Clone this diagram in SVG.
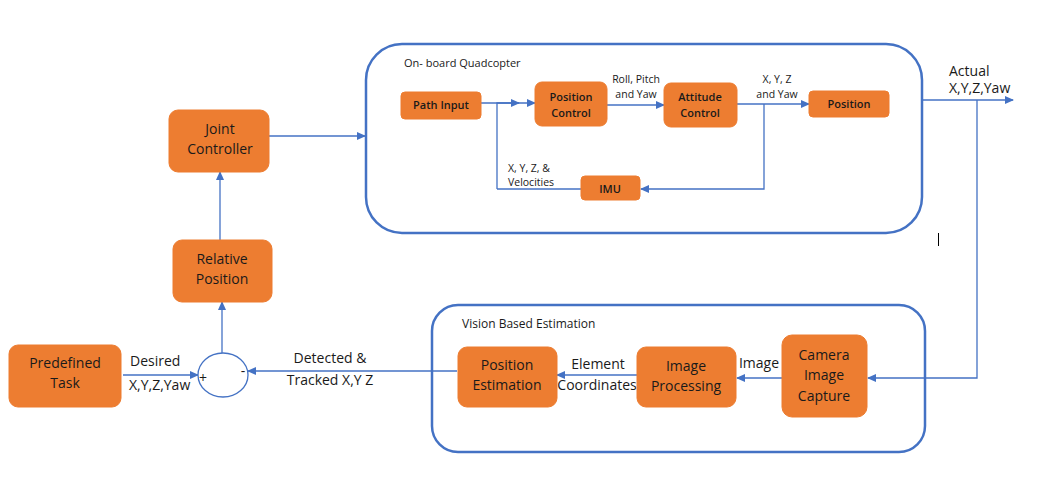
<svg xmlns="http://www.w3.org/2000/svg" width="1038" height="486" viewBox="0 0 1038 486">
<style>
.box{fill:#ED7D31;stroke:#ED7D31;stroke-width:1}
.cont{fill:none;stroke:#4472C4;stroke-width:2.5}
.ln{fill:none;stroke:#4472C4;stroke-width:1.3}
.t{font-family:"Open Sans","Liberation Sans",sans-serif;fill:#1a1a1a;text-anchor:middle}
.n13{font-size:14px}
.n11{font-size:11px;font-weight:600}
.l{font-family:"Open Sans","Liberation Sans",sans-serif;fill:#1a1a1a;font-size:14px}
.s{font-family:"Open Sans","Liberation Sans",sans-serif;fill:#1a1a1a;font-size:10.5px}
</style>
<defs>
<marker id="ah" markerWidth="9" markerHeight="8" refX="8" refY="4" orient="auto" markerUnits="userSpaceOnUse">
<path d="M0,0 L9,4 L0,8 Z" fill="#4472C4"/>
</marker>
</defs>
<rect width="1038" height="486" fill="#ffffff"/>
<g id="containers">
<rect class="cont" x="366" y="44" width="556" height="189" rx="36"/>
<text class="s" x="404" y="67" style="font-size:11px">On- board Quadcopter</text>
<rect class="cont" x="432" y="305" width="493" height="147" rx="26"/>
<text class="s" x="462" y="328" style="font-size:12px">Vision Based Estimation</text>
</g>
<g id="connectors">
<path class="ln" d="M481,103 L519,103" marker-end="url(#ah)"/>
<path class="ln" d="M497,189 L497,103 L535,103" marker-end="url(#ah)"/>
<path class="ln" d="M607,105 L664,105" marker-end="url(#ah)"/>
<path class="ln" d="M737,104 L809,104" marker-end="url(#ah)"/>
<path class="ln" d="M764,104 L764,189 L641,189" marker-end="url(#ah)"/>
<path class="ln" d="M581,189 L497,189"/>
<path class="ln" d="M923,100 L1013,100" marker-end="url(#ah)"/>
<path class="ln" d="M977,100 L977,378 L868,378" marker-end="url(#ah)"/>
<path class="ln" d="M782,378 L737,378" marker-end="url(#ah)"/>
<path class="ln" d="M637,375 L557,375" marker-end="url(#ah)"/>
<path class="ln" d="M457,371 L248,371" marker-end="url(#ah)"/>
<path class="ln" d="M123,375 L198,375" marker-end="url(#ah)"/>
<path class="ln" d="M222,353 L222,302" marker-end="url(#ah)"/>
<path class="ln" d="M220,240 L220,172" marker-end="url(#ah)"/>
<path class="ln" d="M269,136 L365,136" marker-end="url(#ah)"/>
<line x1="938.5" y1="233" x2="938.5" y2="246" stroke="#000" stroke-width="1"/>
</g>
<g id="labels">
<text class="s" x="636" y="83" text-anchor="middle">Roll, Pitch</text>
<text class="s" x="636" y="98" text-anchor="middle">and Yaw</text>
<text class="s" x="777" y="83" text-anchor="middle">X, Y, Z</text>
<text class="s" x="777" y="98" text-anchor="middle">and Yaw</text>
<text class="s" x="508" y="172">X, Y, Z, &amp;</text>
<text class="s" x="508" y="186">Velocities</text>
<text class="l" x="949" y="76">Actual</text>
<text class="l" x="949" y="93">X,Y,Z,Yaw</text>
<text class="l" x="130" y="366">Desired</text>
<text class="l" x="129" y="390">X,Y,Z,Yaw</text>
<text class="l" x="330" y="363" text-anchor="middle">Detected &amp;</text>
<text class="l" x="330" y="385" text-anchor="middle">Tracked X,Y Z</text>
<text class="l" x="598" y="369" text-anchor="middle">Element</text>
<text class="l" x="597" y="390" text-anchor="middle">Coordinates</text>
<text class="l" x="759" y="368" text-anchor="middle">Image</text>
</g>
<g id="sum">
<ellipse cx="223" cy="375" rx="25" ry="22" fill="#fff" stroke="#4472C4" stroke-width="1.3"/>
<text class="l" x="203" y="383" text-anchor="middle">+</text>
<text class="l" x="243" y="376" text-anchor="middle">-</text>
</g>
<g id="path-input">
<rect class="box" x="401" y="92" width="80" height="27" rx="4"/>
<text class="t n11" x="441" y="109">Path Input</text>
</g>
<g id="position-control">
<rect class="box" x="535" y="82" width="72" height="44" rx="7"/>
<text class="t n11" x="571" y="101">Position</text>
<text class="t n11" x="571" y="117">Control</text>
</g>
<g id="attitude-control">
<rect class="box" x="664" y="83" width="73" height="44" rx="7"/>
<text class="t n11" x="700" y="101">Attitude</text>
<text class="t n11" x="700" y="117">Control</text>
</g>
<g id="position">
<rect class="box" x="809" y="91" width="80" height="26" rx="4"/>
<text class="t n11" x="849" y="108">Position</text>
</g>
<g id="imu">
<rect class="box" x="581" y="176" width="59" height="24" rx="4"/>
<text class="t n11" x="610" y="193">IMU</text>
</g>
<g id="joint-controller">
<rect class="box" x="169" y="110" width="100" height="62" rx="9"/>
<text class="t n13" x="220" y="134">Joint</text>
<text class="t n13" x="220" y="154">Controller</text>
</g>
<g id="relative-position">
<rect class="box" x="173" y="240" width="99" height="62" rx="9"/>
<text class="t n13" x="222" y="264">Relative</text>
<text class="t n13" x="222" y="284">Position</text>
</g>
<g id="predefined-task">
<rect class="box" x="9" y="345" width="112" height="62" rx="9"/>
<text class="t n13" x="65" y="368">Predefined</text>
<text class="t n13" x="65" y="388">Task</text>
</g>
<g id="position-estimation">
<rect class="box" x="458" y="347" width="99" height="60" rx="9"/>
<text class="t n13" x="507" y="370">Position</text>
<text class="t n13" x="507" y="390">Estimation</text>
</g>
<g id="image-processing">
<rect class="box" x="637" y="347" width="99" height="60" rx="9"/>
<text class="t n13" x="686" y="371">Image</text>
<text class="t n13" x="686" y="391">Processing</text>
</g>
<g id="camera-capture">
<rect class="box" x="782" y="335" width="85" height="82" rx="10"/>
<text class="t n13" x="824" y="360">Camera</text>
<text class="t n13" x="824" y="380">Image</text>
<text class="t n13" x="824" y="401">Capture</text>
</g>
</svg>
